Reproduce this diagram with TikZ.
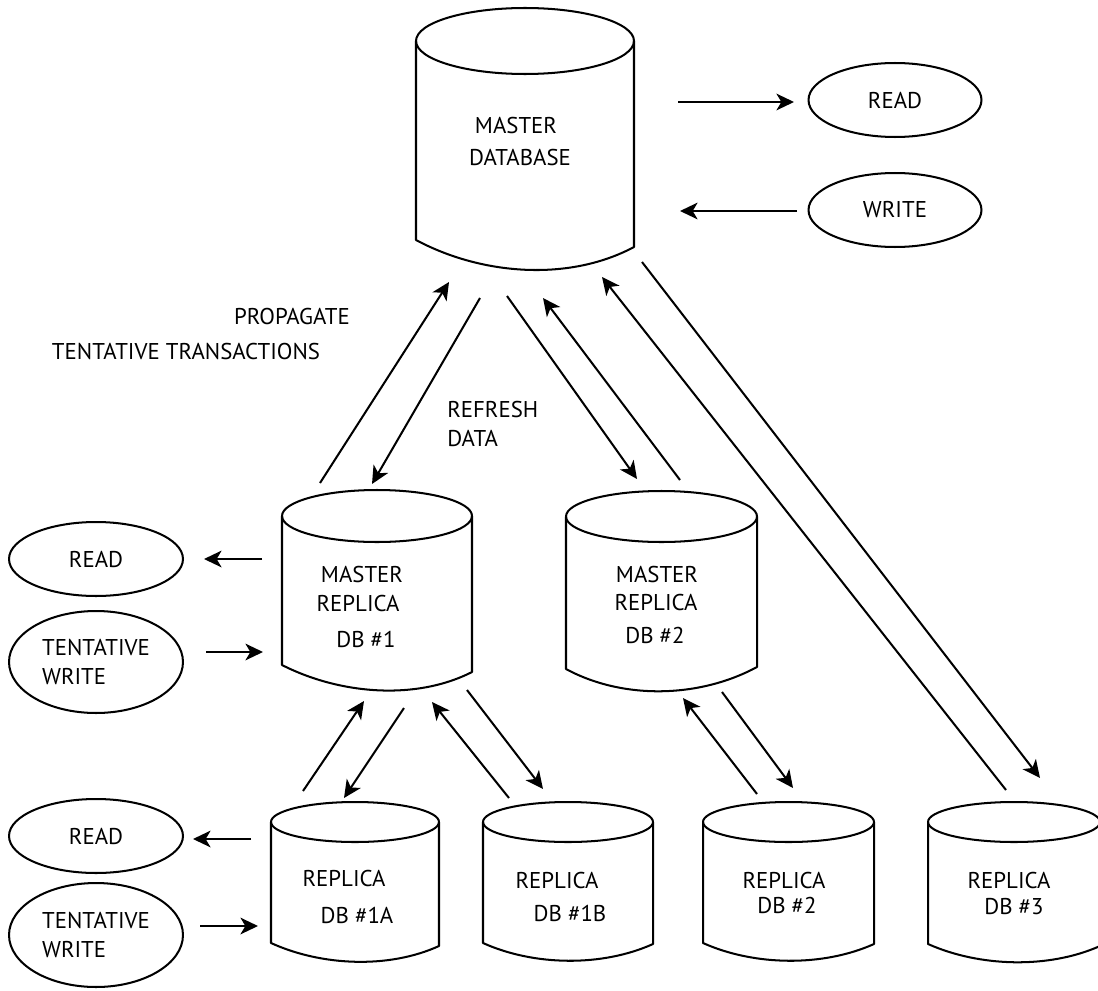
\documentclass[tikz,border=0pt]{standalone}
\usepackage{fontspec}
\setmainfont{PT Sans}
\usetikzlibrary{arrows.meta,shapes.geometric}
% #1 name, #2 left x, #3 right x, #4 top ellipse centre y, #5 ellipse y radius,
% #6 left side bottom y, #7 right side bottom y, #8 bottom bulge
\newcommand\dbcyl[8]{%
  \draw[cyl] ({(#2+#3)/2},#4) ellipse [x radius={(#3-#2)/2}, y radius={#5}];
  \draw[cyl] (#2,#4) -- (#2,#6) .. controls ({#2+0.3*(#3-#2)},{#6+#8}) and ({#2+0.7*(#3-#2)},{#7+#8}) .. (#3,#7) -- (#3,#4);
  \coordinate (#1) at ({(#2+#3)/2},{(#4+#6)/2});
}
\begin{document}
\begin{tikzpicture}[x=0.02cm,y=-0.02cm,
  cyl/.style={line width=1.15pt, line join=round},
  arr/.style={line width=1.15pt, -{Stealth[length=10pt,width=9.5pt,inset=2.8pt]}},
  lbl/.style={inner sep=0pt, font=\fontsize{13}{15}\selectfont},
  oval/.style={draw, ellipse, line width=1.15pt, inner sep=0pt, align=left,
    minimum width=3.48cm, font=\fontsize{13}{16.4}\selectfont}]
\useasboundingbox (0,0) rectangle (1098,990);
\fill[white] (0,0) rectangle (1098,990);

% cylinders
\dbcyl{mdb}{416}{634}{41}{33}{240}{247}{35}
\dbcyl{mr1}{282}{472}{516}{26}{665}{672}{29}
\dbcyl{mr2}{566}{757}{516.5}{25.5}{669}{667}{31}
\dbcyl{r1a}{271}{439}{822}{20}{943}{946}{23}
\dbcyl{r1b}{483}{653}{822}{20}{943}{944}{23}
\dbcyl{r2}{703}{874}{822}{20}{943}{944}{23}
\dbcyl{r3}{928}{1100}{822}{20}{944}{946}{23}

% cylinder labels
\node[lbl] (mdbA) at (516,126) {MASTER};
\node[lbl] (mdbB) at (520,158) {DATABASE};
\node[lbl] (mr1A) at (362,574) {MASTER};
\node[lbl] (mr1B) at (358,603) {REPLICA};
\node[lbl] (mr1C) at (366,639) {DB \#1};
\node[lbl] (mr2A) at (657,574) {MASTER};
\node[lbl] (mr2B) at (656,602) {REPLICA};
\node[lbl] (mr2C) at (655,635) {DB \#2};
\node[lbl] (r1aA) at (344,878) {REPLICA};
\node[lbl] (r1aB) at (357,915) {DB \#1A};
\node[lbl] (r1bA) at (557,880) {REPLICA};
\node[lbl] (r1bB) at (570,913) {DB \#1B};
\node[lbl] (r2A) at (784,880) {REPLICA};
\node[lbl] (r2B) at (787,905) {DB \#2};
\node[lbl] (r3A) at (1009,880) {REPLICA};
\node[lbl] (r3B) at (1014,907) {DB \#3};

% free labels
\node[lbl] (prop) at (292,317) {PROPAGATE};
\node[lbl] (tent) at (186,352) {TENTATIVE TRANSACTIONS};
\node[lbl,anchor=west] (refr) at (447,410) {REFRESH};
\node[lbl,anchor=west] (data) at (447,438) {DATA};

% ovals
\node[oval, minimum width=3.46cm, minimum height=1.48cm] (readT) at (895,100) {READ};
\node[oval, minimum width=3.46cm, minimum height=1.48cm] (writeT) at (895,210) {WRITE};
\node[oval, minimum height=1.48cm] (readM) at (96,559) {READ};
\node[oval, minimum height=2.04cm] (twM) at (96,662) {TENTATIVE\\WRITE};
\node[oval, minimum height=1.48cm] (readB) at (96,836) {READ};
\node[oval, minimum height=2.08cm] (twB) at (96,935) {TENTATIVE\\WRITE};

% diagonal arrows
\draw[arr] (320,483) coordinate (a1s) -- (449,282) coordinate (a1e);
\draw[arr] (480,298) coordinate (a2s) -- (372,484) coordinate (a2e);
\draw[arr] (507,296) coordinate (a3s) -- (637,479) coordinate (a3e);
\draw[arr] (680,480) coordinate (a4s) -- (543,298) coordinate (a4e);
\draw[arr] (1006,790) coordinate (a5s) -- (602,277) coordinate (a5e);
\draw[arr] (642,262) coordinate (a6s) -- (1040,778) coordinate (a6e);
\draw[arr] (303,791) coordinate (a7s) -- (364,701) coordinate (a7e);
\draw[arr] (404,708) coordinate (a8s) -- (344,798) coordinate (a8e);
\draw[arr] (509,798) coordinate (a9s) -- (432,702) coordinate (a9e);
\draw[arr] (467,690) coordinate (a10s) -- (543,789) coordinate (a10e);
\draw[arr] (757,794) coordinate (a11s) -- (683,698) coordinate (a11e);
\draw[arr] (722,692) coordinate (a12s) -- (793,788) coordinate (a12e);

% horizontal arrows
\draw[arr] (678,102) coordinate (h1s) -- (794,102) coordinate (h1e);
\draw[arr] (797,211) coordinate (h2s) -- (680,211) coordinate (h2e);
\draw[arr] (262,559) coordinate (h3s) -- (204,559) coordinate (h3e);
\draw[arr] (206,652) coordinate (h4s) -- (263,652) coordinate (h4e);
\draw[arr] (251,839) coordinate (h5s) -- (193,839) coordinate (h5e);
\draw[arr] (200,926) coordinate (h6s) -- (258,926) coordinate (h6e);
\end{tikzpicture}
\end{document}
